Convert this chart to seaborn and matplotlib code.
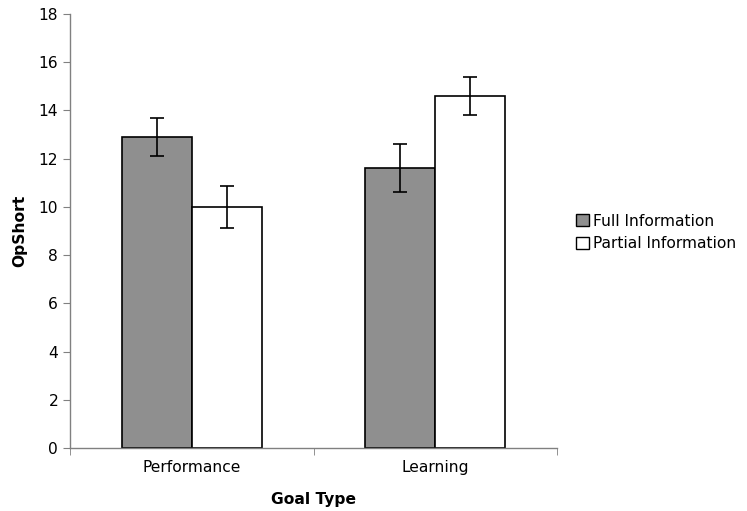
import matplotlib
matplotlib.use("Agg")
from matplotlib import pyplot as plt
from matplotlib.patches import Patch
import seaborn as sns
import pandas as pd

goal_types = ["Performance", "Learning"]
conditions = ["Full Information", "Partial Information"]
full_means = [12.9, 11.6]
partial_means = [10.0, 14.6]
full_err = [0.8, 1.0]
partial_err = [0.86, 0.78]
bar_colors = ["#8f8f8f", "#ffffff"]


def main():
    df = pd.DataFrame({
        "goal": goal_types * 2,
        "condition": [conditions[0]] * 2 + [conditions[1]] * 2,
        "value": full_means + partial_means,
        "err": full_err + partial_err,
    })

    sns.set_style("white")
    plt.rcParams["font.family"] = ["DejaVu Sans"]
    plt.rcParams["text.color"] = "black"
    plt.rcParams["axes.labelcolor"] = "black"
    plt.rcParams["xtick.color"] = "black"
    plt.rcParams["ytick.color"] = "black"

    fig = plt.figure(figsize=(7.47, 5.11), dpi=100)
    ax = fig.add_axes([0.0937, 0.1233, 0.652, 0.8493])

    sns.barplot(data=df, x="goal", y="value", hue="condition",
                order=goal_types, hue_order=conditions,
                palette=bar_colors, width=0.575, gap=0,
                edgecolor="black", linewidth=1.2, errorbar=None,
                legend=False, ax=ax)

    # error bars on the bar centres
    for cond, bars in zip(conditions, ax.containers):
        sub = df[df["condition"] == cond].set_index("goal").loc[goal_types]
        xs = [b.get_x() + b.get_width() / 2 for b in bars]
        ax.errorbar(xs, sub["value"], yerr=sub["err"], fmt="none",
                    ecolor="black", elinewidth=1.2, capsize=5, capthick=1.2)

    ax.set_xlim(-0.5, 1.5)
    ax.set_ylim(0, 18)
    ax.set_yticks(range(0, 19, 2))
    ax.set_xticks([-0.5, 0.5, 1.5], minor=True)
    ax.tick_params(axis="x", which="major", length=0, pad=9, labelsize=11.2)
    ax.tick_params(axis="x", which="minor", length=5, color="#808080",
                   direction="out", bottom=True)
    ax.tick_params(axis="y", length=5, color="#808080", direction="out",
                   left=True, labelsize=11.2)

    for side in ["top", "right"]:
        ax.spines[side].set_visible(False)
    for side in ["left", "bottom"]:
        ax.spines[side].set_color("#808080")
        ax.spines[side].set_linewidth(1.0)

    ax.set_xlabel("Goal Type", fontweight="bold", fontsize=11.2, labelpad=12)
    ax.set_ylabel("OpShort", fontweight="bold", fontsize=11.2, labelpad=8)

    handles = [Patch(facecolor=c, edgecolor="black", linewidth=1.0)
               for c in bar_colors]
    fig.legend(handles, conditions, loc="center left",
               bbox_to_anchor=(0.763, 0.545), frameon=False, fontsize=11.2,
               handlelength=0.8, handleheight=0.8, handletextpad=0.25,
               labelspacing=0.5, borderaxespad=0)

    plt.savefig("out.png", dpi=100)


if __name__ == "__main__":
    main()
